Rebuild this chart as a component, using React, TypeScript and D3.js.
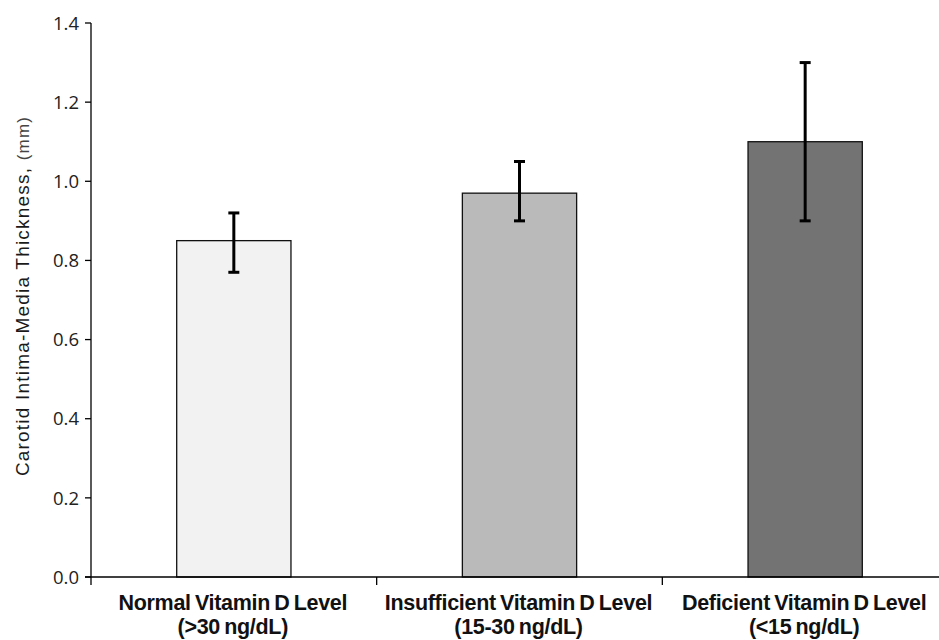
import React from 'react';
import * as d3 from 'd3';

const categories = ['normal', 'insufficient', 'deficient'];
const labelLine1 = ['Normal Vitamin D Level', 'Insufficient Vitamin D Level', 'Deficient Vitamin D Level'];
const labelLine2 = ['(>30 ng/dL)', '(15-30 ng/dL)', '(<15 ng/dL)'];
const values = [0.85, 0.97, 1.1];
const errLow = [0.77, 0.9, 0.9];
const errHigh = [0.92, 1.05, 1.3];
const fills = ['#f2f2f2', '#bababa', '#737373'];
const yTicks = [0, 0.2, 0.4, 0.6, 0.8, 1.0, 1.2, 1.4];

const W = 939;
const H = 640;
const left = 91;
const right = 948;
const top = 23;
const bottom = 577;

const App = () => {
    const x = d3.scaleBand().domain(categories).range([left, right]).paddingInner(0.6).paddingOuter(0.3);
    const bounds = d3.scaleBand().domain(categories).range([left, right]);
    const y = d3.scaleLinear().domain([0, 1.4]).range([bottom, top]);
    const bw = x.bandwidth();

    return (
        <svg width={W} height={H} style={{ position: 'absolute', left: 0, top: 0, background: '#fff' }}>
            {/* y axis */}
            <line x1={left} x2={left} y1={top} y2={bottom + 8} stroke="#000" strokeWidth={1.3} />
            {yTicks.map(t => (
                <g key={t}>
                    <line x1={left - 6} x2={left} y1={y(t)} y2={y(t)} stroke="#000" strokeWidth={1.3} />
                    <text x={left - 12} y={y(t)} dy="0.36em" textAnchor="end"
                        fontFamily="Open Sans, sans-serif" fontSize={18.5} fill="#222">{t.toFixed(1)}</text>
                </g>
            ))}
            <text transform={`translate(29,296) rotate(-90)`} textAnchor="middle"
                fontFamily="Liberation Sans, Arial, sans-serif" fontSize={19} letterSpacing={1.2} fill="#1a1a1a">
                Carotid Intima-Media Thickness, <tspan fontSize={17} fill="#444">(mm)</tspan>
            </text>

            {/* bars */}
            {categories.map((c, i) => (
                <rect key={c} x={x(c)} y={y(values[i])} width={bw} height={bottom - y(values[i])}
                    fill={fills[i]} stroke="#111" strokeWidth={1.3} />
            ))}

            {/* error bars */}
            {categories.map((c, i) => {
                const cx = (x(c) as number) + bw / 2;
                return (
                    <g key={c} stroke="#000" strokeWidth={3}>
                        <line x1={cx} x2={cx} y1={y(errLow[i])} y2={y(errHigh[i])} />
                        <line x1={cx - 5.5} x2={cx + 5.5} y1={y(errLow[i])} y2={y(errLow[i])} />
                        <line x1={cx - 5.5} x2={cx + 5.5} y1={y(errHigh[i])} y2={y(errHigh[i])} />
                    </g>
                );
            })}

            {/* x axis */}
            <line x1={left - 6} x2={right} y1={bottom} y2={bottom} stroke="#000" strokeWidth={1.3} />
            {categories.map(c => (
                <line key={c} x1={(bounds(c) as number) + bounds.bandwidth()} x2={(bounds(c) as number) + bounds.bandwidth()}
                    y1={bottom} y2={bottom + 8} stroke="#000" strokeWidth={1.3} />
            ))}
            {categories.map((c, i) => {
                const cx = (bounds(c) as number) + bounds.bandwidth() / 2 - 1;
                return (
                    <text key={c} textAnchor="middle" fontFamily="Liberation Sans, Arial, sans-serif"
                        fontWeight="bold" fontSize={21.5} letterSpacing={-0.3} wordSpacing={-1.5} fill="#111">
                        <tspan x={cx} y={610}>{labelLine1[i]}</tspan>
                        <tspan x={cx} y={634}>{labelLine2[i]}</tspan>
                    </text>
                );
            })}
        </svg>
    );
};

export default App;
